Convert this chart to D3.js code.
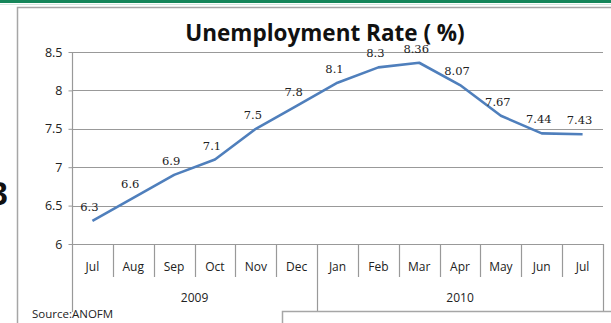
<!DOCTYPE html>
<html>
<head>
<meta charset="utf-8">
<script src="https://cdn.jsdelivr.net/npm/d3@7"></script>
<style>
  body { margin: 0; background: #fff; }
  svg { display: block; }
</style>
</head>
<body>
<div id="chart"></div>
<script>
var months = ["Jul", "Aug", "Sep", "Oct", "Nov", "Dec", "Jan", "Feb", "Mar", "Apr", "May", "Jun", "Jul"];
var years = ["2009", "2010"];
var yearSpan = [6, 7]; // months in each year group
var rates = [6.3, 6.6, 6.9, 7.1, 7.5, 7.8, 8.1, 8.3, 8.36, 8.07, 7.67, 7.44, 7.43];
var yTicks = [6, 6.5, 7, 7.5, 8, 8.5];

var W = 611, H = 323;
var plot = { left: 72, right: 603, top: 52, bottom: 244 };

var svg = d3.select("#chart").append("svg")
    .attr("width", W)
    .attr("height", H);

// slide decoration: green band on top
svg.append("rect").attr("x", 0).attr("y", 0).attr("width", W).attr("height", 3).attr("fill", "#16865a");
svg.append("line").attr("x1", 0).attr("x2", W).attr("y1", 4.5).attr("y2", 4.5)
    .attr("stroke", "#d8e8e0").attr("stroke-width", 1);

// chart frame
svg.append("path")
    .attr("d", "M17.5," + H + "V7.5H" + W)
    .attr("fill", "none").attr("stroke", "#a6a6a6").attr("stroke-width", 1.5);

// cut-off text from the slide on the left
svg.append("text").attr("x", -11).attr("y", 205)
    .attr("font-family", "Liberation Sans, Arial, sans-serif").attr("font-weight", "bold")
    .attr("font-size", 34).attr("fill", "#111").text("3");

var x = d3.scaleBand().domain(d3.range(months.length)).range([plot.left, plot.right]);
var y = d3.scaleLinear().domain([6, 8.5]).range([plot.bottom, plot.top]);

// gridlines
svg.append("g").selectAll("line")
    .data(yTicks.slice(1))
    .enter().append("line")
    .attr("x1", plot.left).attr("x2", plot.right)
    .attr("y1", function(d) { return Math.round(y(d)) + 0.5; })
    .attr("y2", function(d) { return Math.round(y(d)) + 0.5; })
    .attr("stroke", "#999").attr("stroke-width", 1.2);

// y axis
var yAxis = svg.append("g")
    .attr("transform", "translate(" + (plot.left + 0.5) + ",0)")
    .call(d3.axisLeft(y).tickValues(yTicks).tickSize(4).tickPadding(6).tickFormat(d3.format("")));
yAxis.select(".domain").attr("d", "M0," + plot.top + "V312").attr("stroke", "#999").attr("stroke-width", 1.2);
yAxis.selectAll(".tick line").attr("stroke", "#999");
yAxis.selectAll(".tick text")
    .attr("font-family", "Open Sans, sans-serif").attr("font-size", 12.5).attr("fill", "#222");

// category axis (bottom)
var catAxis = svg.append("g");
catAxis.append("line")
    .attr("x1", plot.left).attr("x2", plot.right)
    .attr("y1", plot.bottom + 0.5).attr("y2", plot.bottom + 0.5)
    .attr("stroke", "#999").attr("stroke-width", 1.2);
// month separators
catAxis.selectAll(".sep")
    .data(d3.range(1, months.length + 1))
    .enter().append("line")
    .attr("class", "sep")
    .attr("x1", function(i) { return Math.round(i < months.length ? x(i) : plot.right) + 0.5; })
    .attr("x2", function(i) { return Math.round(i < months.length ? x(i) : plot.right) + 0.5; })
    .attr("y1", plot.bottom)
    .attr("y2", function(i) { return (i === yearSpan[0] || i === months.length) ? 311 : 277; })
    .attr("stroke", "#999").attr("stroke-width", 1.2);
catAxis.selectAll(".month")
    .data(months)
    .enter().append("text")
    .attr("class", "month")
    .attr("x", function(d, i) { return x(i) + x.bandwidth() / 2; })
    .attr("y", 271)
    .attr("text-anchor", "middle")
    .attr("font-family", "Open Sans, sans-serif").attr("font-size", 12).attr("fill", "#222")
    .text(function(d) { return d; });
var yearStart = [0, yearSpan[0]];
catAxis.selectAll(".year")
    .data(years)
    .enter().append("text")
    .attr("class", "year")
    .attr("x", function(d, i) {
        var a = x(yearStart[i]);
        var b = x(yearStart[i] + yearSpan[i] - 1) + x.bandwidth();
        return (a + b) / 2;
    })
    .attr("y", 302)
    .attr("text-anchor", "middle")
    .attr("font-family", "Open Sans, sans-serif").attr("font-size", 12).attr("fill", "#222")
    .text(function(d) { return d; });

// line
var line = d3.line()
    .x(function(d, i) { return x(i) + x.bandwidth() / 2; })
    .y(function(d) { return y(d); });
svg.append("path")
    .datum(rates)
    .attr("d", line)
    .attr("fill", "none").attr("stroke", "#4f7fbc").attr("stroke-width", 2.6)
    .attr("stroke-linejoin", "round");

// data labels
svg.selectAll(".lbl")
    .data(rates)
    .enter().append("text")
    .attr("class", "lbl")
    .attr("x", function(d, i) { return x(i) + x.bandwidth() / 2 - 3; })
    .attr("y", function(d) { return y(d) - 10; })
    .attr("text-anchor", "middle")
    .attr("font-family", "DejaVu Serif, serif").attr("font-size", 11.5).attr("fill", "#222")
    .text(function(d) { return d; });

// title
svg.append("text").attr("x", 325).attr("y", 41)
    .attr("text-anchor", "middle")
    .attr("font-family", "Open Sans, sans-serif").attr("font-weight", "bold")
    .attr("font-size", 22.5).attr("fill", "#111")
    .text("Unemployment Rate ( %)");

// source
svg.append("text").attr("x", 32).attr("y", 318)
    .attr("font-family", "Open Sans, sans-serif").attr("font-size", 11.5).attr("fill", "#222")
    .text("Source:ANOFM");

// box at bottom right
svg.append("path")
    .attr("d", "M282.5," + H + "V311.5H" + W)
    .attr("fill", "none").attr("stroke", "#a6a6a6").attr("stroke-width", 1.5);
</script>
</body>
</html>
